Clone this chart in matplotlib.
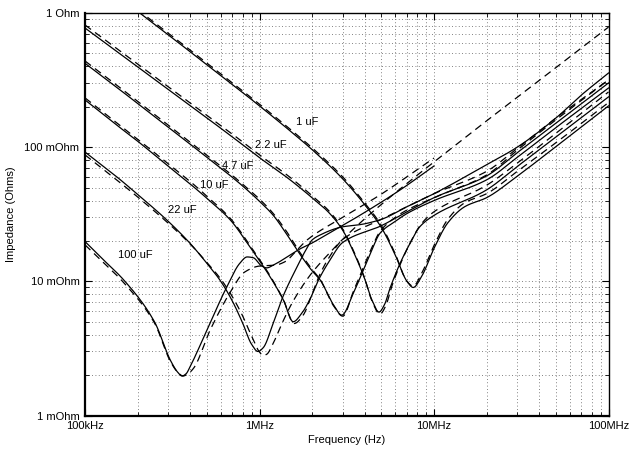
import matplotlib
matplotlib.use("Agg")
import matplotlib.pyplot as plt
import numpy as np
from matplotlib.ticker import FixedLocator, FixedFormatter, NullFormatter

plt.rcParams['font.family'] = ['Liberation Sans', 'DejaVu Sans']

# ---- impedance data: frequency in MHz, impedance in mOhm ----
# 100 uF
f_100_meas = [0.1, 0.122, 0.17, 0.25, 0.31, 0.34, 0.36, 0.38, 0.40, 0.50, 0.65, 0.77,
              0.85, 0.92, 1.03, 1.10, 1.20, 1.44, 1.70, 2.0, 2.2, 3.8, 6.4, 10]
z_100_meas = [19.8, 15.3, 9.95, 5.0, 2.55, 2.1, 1.97, 2.05, 2.31, 4.34, 9.1, 13.6,
              15.2, 15.0, 13.0, 12.6, 13.2, 15.2, 17.4, 19.3, 20.7, 31.3, 48.0, 72.4]
f_100_model = [0.1, 0.122, 0.17, 0.25, 0.31, 0.34, 0.365, 0.39, 0.42, 0.52, 0.68, 0.82,
               1.0, 1.23, 1.40, 1.64, 1.87, 3.0, 4.9, 7.5, 10]
z_100_model = [18.7, 14.6, 9.5, 4.9, 2.5, 2.1, 1.97, 2.05, 2.26, 4.3, 8.3, 11.7,
               13.0, 13.2, 14.0, 17.1, 20.3, 30, 44, 64, 83]

# 22 uF
f_22_meas = [0.1, 0.15, 0.2, 0.3, 0.4, 0.5, 0.6, 0.7, 0.8, 0.9, 0.98, 1.05, 1.2, 1.36,
             1.64, 1.87, 2.0, 2.2, 3.0, 3.8, 5.0, 7.0, 10, 20, 30, 50, 70, 100]
z_22_meas = [92, 61, 44.5, 28, 19.2, 13.6, 10.0, 7.1, 4.9, 3.4, 3.0, 3.2, 4.9, 7.65,
             12.8, 17.7, 20.3, 22, 25.5, 26.5, 29, 36, 45, 74, 100, 165, 245, 357]
f_22_model = [0.1, 0.15, 0.2, 0.3, 0.4, 0.5, 0.6, 0.7, 0.8, 0.9, 1.0, 1.05, 1.1, 1.2,
              1.35, 1.5, 1.75, 2, 2.5, 3, 4, 5, 7, 10, 15, 20, 30, 50, 70, 100]
z_22_model = [87.6, 57.8, 42.6, 27.1, 19.0, 13.8, 10.4, 7.66, 5.53, 3.92, 2.97, 2.8,
              2.86, 3.47, 4.9, 6.5, 9.1, 11.6, 16.1, 20.6, 29.2, 37.5, 53.7, 77.6,
              117, 157, 235, 392, 550, 785]

# 10 uF
f_10_meas = [0.1, 0.15, 0.2, 0.3, 0.44, 0.5, 0.68, 0.88, 1.15, 1.37, 1.56, 1.75, 1.94,
             2.2, 2.5, 3.0, 5.0, 7.0, 10, 20, 30, 50, 100]
z_10_meas = [225, 148, 111, 72, 48, 41.5, 28.7, 18.1, 10.8, 7.27, 5.0, 5.8, 7.3,
             10.5, 14, 19.5, 26, 33, 42, 61, 91, 151, 301]
f_10_model = [0.1, 0.15, 0.2, 0.3, 0.44, 0.5, 0.68, 0.88, 1.15, 1.37, 1.58, 1.78, 1.97,
              2.2, 2.5, 3.0, 5.0, 7.0, 10, 20, 30, 50, 100]
z_10_model = [233, 154, 115, 75, 50, 43, 29.5, 18.6, 11.0, 7.3, 4.85, 5.6, 7.6,
              11, 15, 20.5, 29, 36, 45, 66, 98, 165, 317]

# 4.7 uF
f_47_meas = [0.1, 0.15, 0.2, 0.3, 0.5, 0.7, 0.85, 1.0, 1.2, 1.43, 1.7, 2.0, 2.22, 2.65,
             2.96, 3.45, 3.94, 4.4, 4.9, 6.0, 7.0, 10, 20, 30, 50, 100]
z_47_meas = [422, 283, 212, 141, 84, 59.5, 48, 39.5, 31, 22.5, 16, 12, 10.3, 6.7,
             5.6, 8.16, 12.2, 17.1, 22.8, 28, 32, 40, 57, 84, 140, 276]
f_47_model = [0.1, 0.15, 0.2, 0.3, 0.5, 0.7, 0.85, 1.0, 1.2, 1.43, 1.7, 2.0, 2.22, 2.65,
              3.0, 3.45, 3.94, 4.4, 4.9, 6.0, 7.0, 10, 20, 30, 50, 100]
z_47_model = [439, 294, 220, 146, 87, 61.5, 49.5, 41, 32, 23.5, 16.5, 12.3, 10.4, 6.6,
              5.5, 8.4, 12.8, 17.8, 23.5, 30, 34, 42, 62, 95, 160, 317]

# 2.2 uF
f_2u2_meas = [0.1, 0.15, 0.2, 0.3, 0.5, 0.7, 1.0, 1.5, 2.0, 2.5, 3.0, 3.5, 4.0, 4.4,
              4.84, 5.2, 5.6, 6.39, 7.29, 8.31, 10, 20, 30, 50, 100]
z_2u2_meas = [773, 524, 397, 269, 165, 119, 83.5, 57, 42, 32.5, 24, 16, 10.5, 7.3,
              5.9, 6.7, 8.9, 13.6, 19.2, 25.6, 31, 48, 71.8, 119, 237]
f_2u2_model = [0.1, 0.15, 0.2, 0.3, 0.5, 0.7, 1.0, 1.5, 2.0, 2.5, 3.0, 3.5, 4.0, 4.4,
               4.9, 5.3, 5.7, 6.5, 7.4, 8.4, 10, 20, 30, 50, 100]
z_2u2_model = [814, 550, 417, 282, 173, 125, 87.5, 59.5, 43.5, 33.5, 24.5, 16.3, 10.6,
               7.2, 5.7, 6.6, 9.0, 14.0, 20, 26.5, 33, 52, 76, 127, 258]

# 1 uF
f_1_meas = [0.2, 0.3, 0.5, 0.7, 1.0, 1.5, 2.0, 3.0, 4.0, 5.0, 6.0, 7.0, 7.6, 8.5,
            10, 12, 15, 20, 30, 50, 100]
z_1_meas = [1030, 688, 411, 293, 203, 132, 96, 58, 37.4, 25.1, 15.7, 10.0, 9.0, 10.9,
            17.6, 27.3, 36, 42, 60.8, 101, 203]
f_1_model = [0.2, 0.3, 0.5, 0.7, 1.0, 1.5, 2.0, 3.0, 4.0, 5.0, 6.0, 7.0, 7.6, 8.5,
             10, 12, 15, 20, 30, 50, 100]
z_1_model = [1060, 708, 423, 301, 209, 136, 99, 60, 38.5, 26, 16, 10, 9.2, 11.5,
             18.5, 29, 38.5, 45, 66, 108, 215]

measured = [(f_100_meas, z_100_meas), (f_22_meas, z_22_meas), (f_10_meas, z_10_meas),
            (f_47_meas, z_47_meas), (f_2u2_meas, z_2u2_meas), (f_1_meas, z_1_meas)]
modeled = [(f_100_model, z_100_model), (f_22_model, z_22_model), (f_10_model, z_10_model),
           (f_47_model, z_47_model), (f_2u2_model, z_2u2_model), (f_1_model, z_1_model)]

# curve annotations: (text, frequency MHz, impedance mOhm)
labels = [("1 uF", 1.62, 154), ("2.2 uF", 0.94, 104), ("4.7 uF", 0.607, 73),
          ("10 uF", 0.456, 52.3), ("22 uF", 0.30, 34.0), ("100 uF", 0.1545, 15.7)]

x_ticks = [1e5, 1e6, 1e7, 1e8]
x_tick_labels = ["100kHz", "1MHz", "10MHz", "100MHz"]
y_ticks = [1e-3, 1e-2, 1e-1, 1.0]
y_tick_labels = ["1 mOhm", "10 mOhm", "100 mOhm", "1 Ohm"]


def smooth_trace(f_mhz, z_mohm, n=40):
    """Monotone cubic (PCHIP) path through the points in log-log space."""
    x = np.log10(np.asarray(f_mhz, float) * 1e6)
    y = np.log10(np.asarray(z_mohm, float) * 1e-3)
    h = np.diff(x)
    d = np.diff(y) / h
    m = np.zeros_like(y)
    for k in range(1, len(y) - 1):
        if d[k - 1] * d[k] > 0:
            w1 = 2 * h[k] + h[k - 1]
            w2 = h[k] + 2 * h[k - 1]
            m[k] = (w1 + w2) / (w1 / d[k - 1] + w2 / d[k])
    m[0] = d[0]
    m[-1] = d[-1]
    xs, ys = [], []
    for k in range(len(h)):
        t = np.linspace(0, 1, n, endpoint=False)
        h00 = 2 * t**3 - 3 * t**2 + 1
        h10 = t**3 - 2 * t**2 + t
        h01 = -2 * t**3 + 3 * t**2
        h11 = t**3 - t**2
        xs.append(x[k] + t * h[k])
        ys.append(h00 * y[k] + h10 * h[k] * m[k] + h01 * y[k + 1] + h11 * h[k] * m[k + 1])
    xs.append([x[-1]])
    ys.append([y[-1]])
    return 10 ** np.concatenate(xs), 10 ** np.concatenate(ys)


fig = plt.figure(figsize=(6.3, 4.49), dpi=100)
ax = fig.add_axes([85 / 630, 33.5 / 449, 523.5 / 630, 402.5 / 449])

for f, z in measured:
    fx, zy = smooth_trace(f, z)
    ax.plot(fx, zy, color="black", lw=0.9)
for f, z in modeled:
    fx, zy = smooth_trace(f, z)
    ax.plot(fx, zy, color="black", lw=0.9, linestyle=(0, (6, 4)))

for text, f, z in labels:
    ax.text(f * 1e6, z * 1e-3, text, fontsize=8, ha="left", va="center")

ax.set_xscale("log")
ax.set_yscale("log")
ax.set_xlim(1e5, 1e8)
ax.set_ylim(1e-3, 1.0)

ax.xaxis.set_major_locator(FixedLocator(x_ticks))
ax.xaxis.set_major_formatter(FixedFormatter(x_tick_labels))
ax.yaxis.set_major_locator(FixedLocator(y_ticks))
ax.yaxis.set_major_formatter(FixedFormatter(y_tick_labels))
minor_x = [m * d for d in [1e5, 1e6, 1e7] for m in range(2, 10)]
minor_y = [m * d for d in [1e-3, 1e-2, 1e-1] for m in range(2, 10)]
ax.xaxis.set_minor_locator(FixedLocator(minor_x))
ax.yaxis.set_minor_locator(FixedLocator(minor_y))
ax.xaxis.set_minor_formatter(NullFormatter())
ax.yaxis.set_minor_formatter(NullFormatter())

ax.tick_params(which="both", direction="in", top=True, right=True, labelsize=8,
               color="black")
ax.tick_params(which="major", length=5, width=0.8, pad=4)
ax.tick_params(which="minor", length=3, width=0.6)

ax.grid(True, which="both", linestyle=(0, (1, 3)), color="0.35", lw=0.6)

ax.spines["left"].set_linewidth(1.6)
ax.spines["bottom"].set_linewidth(1.6)
ax.spines["top"].set_linewidth(1.0)
ax.spines["right"].set_linewidth(1.0)

ax.set_xlabel("Frequency (Hz)", fontsize=8, labelpad=3)
ax.set_ylabel("Impedance (Ohms)", fontsize=8, labelpad=6)

fig.savefig("out.png", dpi=100)
